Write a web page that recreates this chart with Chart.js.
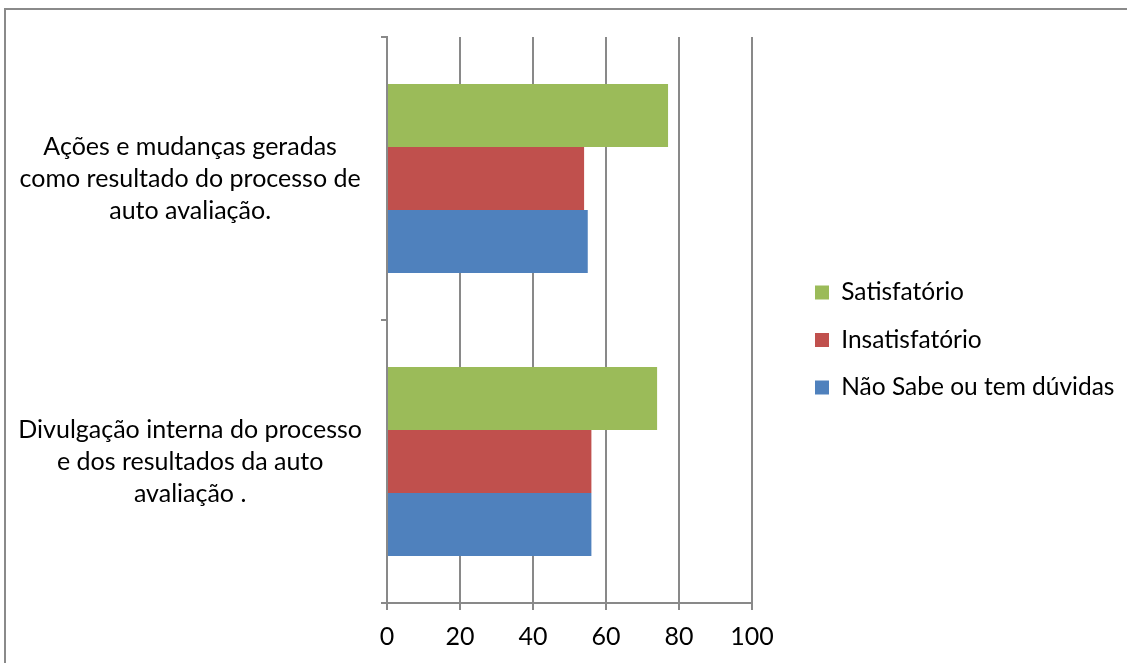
<!DOCTYPE html>
<html>
<head>
<meta charset="utf-8">
<script src="https://cdn.jsdelivr.net/npm/chart.js@4.4.1/dist/chart.umd.min.js"></script>
<style>
  html, body { margin: 0; padding: 0; background: #fff; }
  #frame {
    position: absolute; left: 4px; top: 8px; width: 1200px; height: 700px;
    border-left: 2px solid #8a8a8a; border-top: 2px solid #8a8a8a;
  }
  #wrap { position: absolute; left: 0; top: 0; width: 1127px; height: 663px; }
</style>
</head>
<body>
<div id="frame"></div>
<div id="wrap"><canvas id="chart"></canvas></div>
<script>
// categories, top to bottom as shown
const categories = [
    ['Ações e mudanças geradas', 'como resultado do processo de', 'auto avaliação.'],
    ['Divulgação interna do processo', 'e dos resultados da auto', 'avaliação .']
];

const seriesNames = ['Satisfatório', 'Insatisfatório', 'Não Sabe ou tem dúvidas'];
const satisfatorio = [77, 74];
const insatisfatorio = [54, 56];
const naoSabe = [55, 56];

const xTicks = [0, 20, 40, 60, 80, 100];

const colors = ['#9bbb59', '#c0504d', '#4f81bd'];
const gridColor = '#898989';
const fontFamily = "Lato, 'Liberation Sans', sans-serif";

// legend sits further right of the plot than labels.padding allows,
// and a bit higher than plain centering puts it
const legendShift = {
    id: 'legendShift',
    afterLayout(chart) {
        const l = chart.legend;
        l.left += 40;
        l.right = chart.width;
        l.top -= 10;
        l.bottom -= 10;
    }
};

const seriesValues = [satisfatorio, insatisfatorio, naoSabe];

new Chart(document.getElementById('chart').getContext('2d'), {
    type: 'bar',
    data: {
        labels: categories,
        datasets: seriesNames.map((name, i) => ({
            label: name,
            data: seriesValues[i],
            backgroundColor: colors[i],
            borderWidth: 0,
            barPercentage: 1,
            categoryPercentage: 0.667
        }))
    },
    options: {
        indexAxis: 'y',
        responsive: true,
        maintainAspectRatio: false,
        animation: false,
        layout: { padding: { top: 37, bottom: 0, left: 0, right: 0 } },
        plugins: {
            tooltip: { enabled: false },
            legend: {
                position: 'right',
                align: 'center',
                labels: {
                    color: '#000',
                    boxWidth: 14,
                    boxHeight: 14,
                    padding: 23,
                    font: { family: fontFamily, size: 24.5 }
                }
            }
        },
        scales: {
            x: {
                min: 0,
                max: 100,
                afterBuildTicks(s) { s.ticks = xTicks.map(v => ({ value: v })); },
                afterFit(s) {
                    s.height = 60;
                    s.paddingRight = 375;
                },
                grid: {
                    color: gridColor,
                    lineWidth: 2,
                    tickLength: 7,
                    drawTicks: true
                },
                border: { color: gridColor, width: 2 },
                ticks: {
                    color: '#000',
                    padding: 12,
                    font: { family: fontFamily, size: 25 }
                }
            },
            y: {
                afterFit(s) {
                    s.width = 387;
                    s.paddingTop = 0;
                    s.paddingBottom = 0;
                },
                grid: {
                    offset: true,
                    drawOnChartArea: false,
                    color: gridColor,
                    lineWidth: 2,
                    tickLength: 6
                },
                border: { color: gridColor, width: 2 },
                ticks: {
                    color: '#000',
                    crossAlign: 'center',
                    padding: 19,
                    font: { family: fontFamily, size: 25, lineHeight: 1.28 }
                }
            }
        }
    },
    plugins: [legendShift]
});
</script>
</body>
</html>
